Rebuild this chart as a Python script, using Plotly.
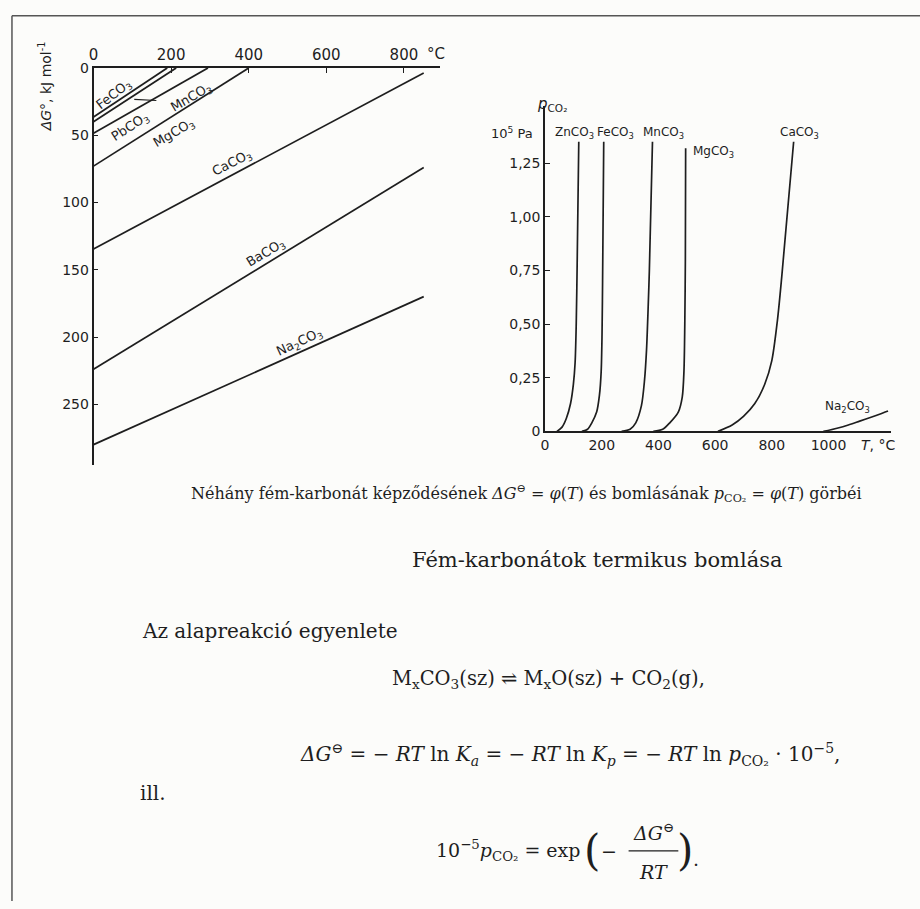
import plotly.graph_objects as go

W, H = 920, 909
def px(x):
    return x / W
def py(y):
    return 1 - y / H

# ---------------- Left chart data: ΔG° (kJ/mol) vs T (°C) ----------------
dg_names = ["FeCO3", "PbCO3", "MnCO3", "MgCO3", "CaCO3", "BaCO3", "Na2CO3"]
dg_T = {
    "FeCO3": [0, 190],
    "PbCO3": [0, 213],
    "MnCO3": [0, 295],
    "MgCO3": [0, 400],
    "CaCO3": [0, 851],
    "BaCO3": [0, 851],
    "Na2CO3": [0, 851],
}
dg_G = {
    "FeCO3": [36.5, 0],
    "PbCO3": [40, 0],
    "MnCO3": [48.5, 0],
    "MgCO3": [73, 0],
    "CaCO3": [134.5, 3.7],
    "BaCO3": [224, 74],
    "Na2CO3": [280, 170],
}
leader_T = [105, 162]
leader_G = [23.4, 24.2]
dg_xticks = [0, 200, 400, 600, 800]
dg_yticks = [0, 50, 100, 150, 200, 250]

# ---------------- Right chart data: p_CO2 (10^5 Pa) vs T (°C) ----------------
p_names = ["ZnCO3", "FeCO3", "MnCO3", "MgCO3", "CaCO3", "Na2CO3"]
p_T = {
    "ZnCO3": [42, 60, 75, 90, 100, 106, 110, 113, 119],
    "FeCO3": [130, 150, 165, 182, 192, 198, 201, 203, 207],
    "MnCO3": [270, 300, 320, 340, 351, 358, 363, 368, 379],
    "MgCO3": [382, 415, 440, 470, 484, 490, 493, 495, 496],
    "CaCO3": [610, 660, 700, 740, 775, 800, 820, 835, 877],
    "Na2CO3": [982, 1030, 1070, 1110, 1150, 1180, 1210],
}
p_P = {
    "ZnCO3": [0, 0.02, 0.06, 0.13, 0.22, 0.32, 0.5, 0.75, 1.35],
    "FeCO3": [0, 0.01, 0.04, 0.09, 0.17, 0.28, 0.45, 0.7, 1.35],
    "MnCO3": [0, 0.01, 0.04, 0.12, 0.24, 0.38, 0.55, 0.75, 1.35],
    "MgCO3": [0, 0.01, 0.04, 0.09, 0.16, 0.28, 0.5, 0.8, 1.32],
    "CaCO3": [0, 0.03, 0.07, 0.13, 0.22, 0.33, 0.52, 0.72, 1.35],
    "Na2CO3": [0, 0.015, 0.03, 0.048, 0.066, 0.08, 0.095],
}
p_yticks = [0, 0.25, 0.5, 0.75, 1.0, 1.25]
p_yticktext = ["0", "0,25", "0,50", "0,75", "1,00", "1,25"]
p_xticks = [0, 200, 400, 600, 800, 1000]

INK = "#1e1e1e"
HAND = "DejaVu Sans"
SERIF = "DejaVu Serif"

fig = go.Figure()

for n in dg_names:
    fig.add_trace(go.Scatter(x=dg_T[n], y=dg_G[n], mode="lines", name=n,
                             line=dict(color=INK, width=1.7),
                             xaxis="x", yaxis="y", showlegend=False, hoverinfo="skip"))
fig.add_trace(go.Scatter(x=leader_T, y=leader_G, mode="lines", line=dict(color=INK, width=1.2),
                         xaxis="x", yaxis="y", showlegend=False, hoverinfo="skip"))

for n in p_names:
    fig.add_trace(go.Scatter(x=p_T[n], y=p_P[n], mode="lines", name=n,
                             line=dict(color=INK, width=1.7, shape="spline", smoothing=0.8),
                             xaxis="x2", yaxis="y2", showlegend=False, hoverinfo="skip"))

tickfont = dict(family=HAND, size=14, color=INK)

fig.update_layout(
    width=W, height=H,
    margin=dict(l=0, r=0, t=0, b=0),
    paper_bgcolor="#fcfcfa",
    plot_bgcolor="rgba(0,0,0,0)",
    showlegend=False,
    xaxis=dict(domain=[px(89), px(437)], range=[0, 892], side="top", anchor="y",
               showline=True, linecolor=INK, linewidth=1.6, showgrid=False, zeroline=False,
               tickvals=dg_xticks, ticktext=[str(v) for v in dg_xticks],
               ticks="inside", ticklen=5, tickcolor=INK, tickfont=dict(family=HAND, size=15, color=INK)),
    yaxis=dict(domain=[py(465), py(61)], range=[295, 0], anchor="x",
               showline=True, linecolor=INK, linewidth=1.6, showgrid=False, zeroline=False,
               tickvals=dg_yticks, ticktext=[str(v) for v in dg_yticks],
               ticks="inside", ticklen=5, tickcolor=INK, tickfont=tickfont),
    xaxis2=dict(domain=[px(543), px(891)], range=[0, 1221], anchor="y2",
                showline=True, linecolor=INK, linewidth=1.6, showgrid=False, zeroline=False,
                tickvals=p_xticks, ticktext=[str(v) for v in p_xticks],
                ticks="", tickfont=tickfont),
    yaxis2=dict(domain=[py(431), py(100)], range=[0, (431 - 100) / 218.4], anchor="x2",
                showline=True, linecolor=INK, linewidth=1.6, showgrid=False, zeroline=False,
                tickvals=p_yticks, ticktext=p_yticktext,
                ticks="inside", ticklen=5, tickcolor=INK, tickfont=tickfont),
)

ann = []
def A(text, x, y, size=14, angle=0, family=HAND, xanchor="center", yanchor="middle", color=INK):
    ann.append(dict(text=text, x=px(x), y=py(y), xref="paper", yref="paper", showarrow=False,
                    textangle=angle, font=dict(family=family, size=size, color=color),
                    xanchor=xanchor, yanchor=yanchor))

# Left chart labels
A("°C", 433, 47, size=15)
A("<i>ΔG</i>°, kJ mol<sup>-1</sup>", 40, 80, size=14, angle=-90)
A("FeCO<sub>3</sub>", 110, 88, size=13, angle=-38)
A("PbCO<sub>3</sub>", 126, 122, size=13, angle=-33)
A("MnCO<sub>3</sub>", 188, 91, size=13, angle=-30)
A("MgCO<sub>3</sub>", 170, 128, size=13, angle=-30)
A("CaCO<sub>3</sub>", 228, 158, size=13, angle=-27)
A("BaCO<sub>3</sub>", 262, 250, size=13, angle=-31)
A("Na<sub>2</sub>CO<sub>3</sub>", 296, 340, size=13, angle=-25)

# Right chart labels
A("<i>p</i><sub>CO₂</sub>", 550, 98, size=15)
A("10<sup>5</sup> Pa", 510, 127, size=13)
A("ZnCO<sub>3</sub>", 573, 127, size=12)
A("FeCO<sub>3</sub>", 614, 127, size=12)
A("MnCO<sub>3</sub>", 662, 127, size=12)
A("MgCO<sub>3</sub>", 712, 147, size=12)
A("CaCO<sub>3</sub>", 799, 127, size=12)
A("Na<sub>2</sub>CO<sub>3</sub>", 847, 406, size=12)
A("<i>T</i>, °C", 878, 445, size=14)

# Page text
A("Néhány fém-karbonát képződésének <i>ΔG</i><sup>⊖</sup> = <i>φ</i>(<i>T</i>) és bomlásának "
  "<i>p</i><sub>CO₂</sub> = <i>φ</i>(<i>T</i>) görbéi", 524, 494, size=16, family=SERIF)
A("Fém-karbonátok termikus bomlása", 596, 562, size=21, family=SERIF)
A("Az alapreakció egyenlete", 136, 634, size=20, family=SERIF, xanchor="left")
A("M<sub>x</sub>CO<sub>3</sub>(sz) ⇌ M<sub>x</sub>O(sz) + CO<sub>2</sub>(g),", 546, 684, size=19.5, family=SERIF)
A("<i>ΔG</i><sup>⊖</sup> = − <i>RT</i> ln <i>K<sub>a</sub></i> = − <i>RT</i> ln <i>K<sub>p</sub></i> = − <i>RT</i> ln "
  "<i>p</i><sub>CO₂</sub> · 10<sup>−5</sup>,", 568, 760, size=20, family=SERIF)
A("ill.", 134, 799, size=20, family=SERIF, xanchor="left")
A("10<sup>−5</sup><i>p</i><sub>CO₂</sub> = exp", 506, 858, size=19, family=SERIF)
A("(", 590, 858, size=42, family=SERIF)
A("−", 607, 858, size=19, family=SERIF)
A("<i>ΔG</i><sup>⊖</sup>", 652, 839, size=19, family=SERIF)
A("<i>RT</i>", 652, 879, size=19, family=SERIF)
A(")", 684, 858, size=42, family=SERIF)
A(".", 695, 866, size=19, family=SERIF)

fig.update_layout(annotations=ann)

shapes = [
    dict(type="line", xref="paper", yref="paper", x0=px(7), x1=1, y0=py(8), y1=py(8),
         line=dict(color="#555", width=1.5)),
    dict(type="line", xref="paper", yref="paper", x0=px(7), x1=px(7), y0=py(8), y1=0,
         line=dict(color="#555", width=1.5)),
    # fraction bar
    dict(type="line", xref="paper", yref="paper", x0=px(627), x1=px(677), y0=py(858), y1=py(858),
         line=dict(color=INK, width=1.2)),
]
fig.update_layout(shapes=shapes)

fig.write_html("out.html")
